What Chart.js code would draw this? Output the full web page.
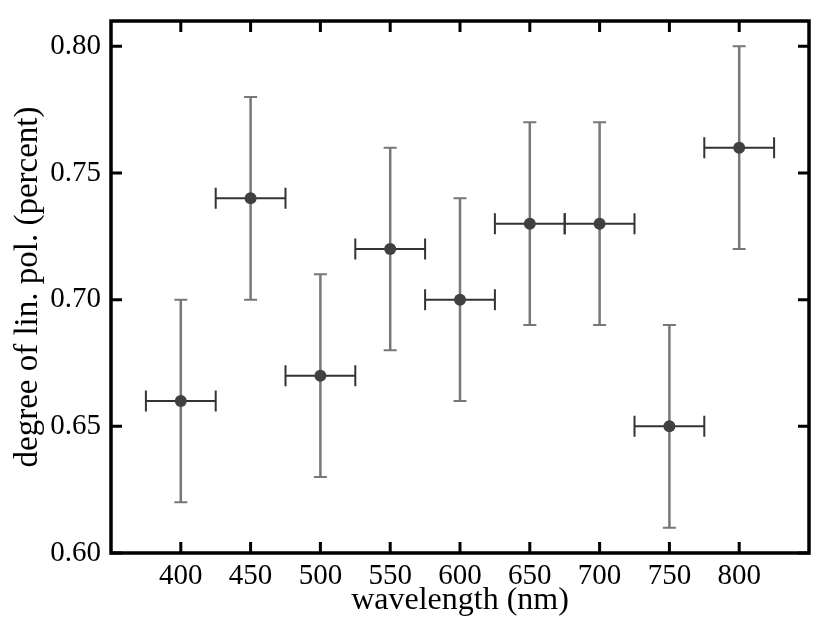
<!DOCTYPE html>
<html>
<head>
<meta charset="utf-8">
<script src="https://cdn.jsdelivr.net/npm/chart.js@4/dist/chart.umd.min.js"></script>
<style>
html,body{margin:0;padding:0;background:#fff;}
#wrap{width:830px;height:631px;}
</style>
</head>
<body>
<div id="wrap"><canvas id="c" width="830" height="631"></canvas></div>
<script>
const wavelengths = [400, 450, 500, 550, 600, 650, 700, 750, 800];
const polDegree   = [0.66, 0.74, 0.67, 0.72, 0.70, 0.73, 0.73, 0.65, 0.76];
const polError    = [0.04, 0.04, 0.04, 0.04, 0.04, 0.04, 0.04, 0.04, 0.04];
const wlError     = [25, 25, 25, 25, 25, 25, 25, 25, 25];
const xTicks = [400, 450, 500, 550, 600, 650, 700, 750, 800];
const yTicks = [0.60, 0.65, 0.70, 0.75, 0.80];
const xTitle = 'wavelength (nm)';
const yTitle = 'degree of lin. pol. (percent)';

const FONT = "'Liberation Serif', serif";

const errorBars = {
  id: 'errorBars',
  beforeDatasetsDraw(chart) {
    const {ctx, scales: {x, y}} = chart;
    ctx.save();
    wavelengths.forEach((w, i) => {
      const px = x.getPixelForValue(w);
      const py = y.getPixelForValue(polDegree[i]);
      const yTop = y.getPixelForValue(polDegree[i] + polError[i]);
      const yBot = y.getPixelForValue(polDegree[i] - polError[i]);
      const xL = x.getPixelForValue(w - wlError[i]);
      const xR = x.getPixelForValue(w + wlError[i]);
      // horizontal (dark)
      ctx.strokeStyle = '#333333';
      ctx.lineWidth = 2;
      ctx.beginPath();
      ctx.moveTo(xL, py); ctx.lineTo(xR, py);
      ctx.moveTo(xL, py - 10.5); ctx.lineTo(xL, py + 10.5);
      ctx.moveTo(xR, py - 10.5); ctx.lineTo(xR, py + 10.5);
      ctx.stroke();
      // vertical (gray)
      ctx.strokeStyle = '#777777';
      ctx.lineWidth = 2.5;
      ctx.beginPath();
      ctx.moveTo(px, yTop); ctx.lineTo(px, yBot);
      ctx.stroke();
      ctx.lineWidth = 2;
      ctx.beginPath();
      ctx.moveTo(px - 6.5, yTop); ctx.lineTo(px + 6.5, yTop);
      ctx.moveTo(px - 6.5, yBot); ctx.lineTo(px + 6.5, yBot);
      ctx.stroke();
    });
    ctx.restore();
  }
};

const frame = {
  id: 'frame',
  afterDraw(chart) {
    const {ctx, chartArea: a, scales: {x, y}} = chart;
    ctx.save();
    ctx.strokeStyle = '#000';
    ctx.lineWidth = 3;
    ctx.beginPath();
    xTicks.forEach(v => {
      const p = x.getPixelForValue(v);
      ctx.moveTo(p, a.bottom); ctx.lineTo(p, a.bottom - 11);
      ctx.moveTo(p, a.top); ctx.lineTo(p, a.top + 11);
    });
    yTicks.forEach(v => {
      const p = y.getPixelForValue(v);
      ctx.moveTo(a.left, p); ctx.lineTo(a.left + 11, p);
      ctx.moveTo(a.right, p); ctx.lineTo(a.right - 11, p);
    });
    ctx.stroke();
    ctx.lineWidth = 3.5;
    ctx.strokeRect(a.left, a.top, a.right - a.left, a.bottom - a.top);
    ctx.restore();
  }
};

new Chart(document.getElementById('c'), {
  type: 'scatter',
  data: {
    datasets: [{
      data: wavelengths.map((w, i) => ({x: w, y: polDegree[i]})),
      backgroundColor: '#404040',
      borderColor: '#404040',
      pointRadius: 6,
      pointHoverRadius: 6,
      borderWidth: 0
    }]
  },
  options: {
    responsive: false,
    animation: false,
    events: [],
    layout: {padding: {left: 0, right: 21, top: 21, bottom: 0}},
    plugins: {legend: {display: false}, tooltip: {enabled: false}},
    scales: {
      x: {
        type: 'linear',
        min: 350, max: 850,
        afterBuildTicks: s => { s.ticks = xTicks.map(v => ({value: v})); },
        afterFit: s => { s.height = 78; s.paddingLeft = 0; s.paddingRight = 0; },
        grid: {display: false, drawTicks: false},
        border: {display: false},
        ticks: {color: '#000', padding: 6, maxRotation: 0, font: {family: FONT, size: 29}},
        title: {display: true, text: xTitle, color: '#000', font: {family: FONT, size: 32}, padding: {top: 0, bottom: 11}}
      },
      y: {
        type: 'linear',
        min: 0.60, max: 0.81,
        afterBuildTicks: s => { s.ticks = yTicks.map(v => ({value: v})); },
        afterFit: s => { s.width = 111; s.paddingTop = 0; s.paddingBottom = 0; },
        grid: {display: false, drawTicks: false},
        border: {display: false},
        ticks: {color: '#000', padding: 10, font: {family: FONT, size: 29}, callback: v => Number(v).toFixed(2)},
        title: {display: true, text: yTitle, color: '#000', font: {family: FONT, size: 33}, padding: {top: 9, bottom: 0}}
      }
    }
  },
  plugins: [errorBars, frame]
});
</script>
</body>
</html>
